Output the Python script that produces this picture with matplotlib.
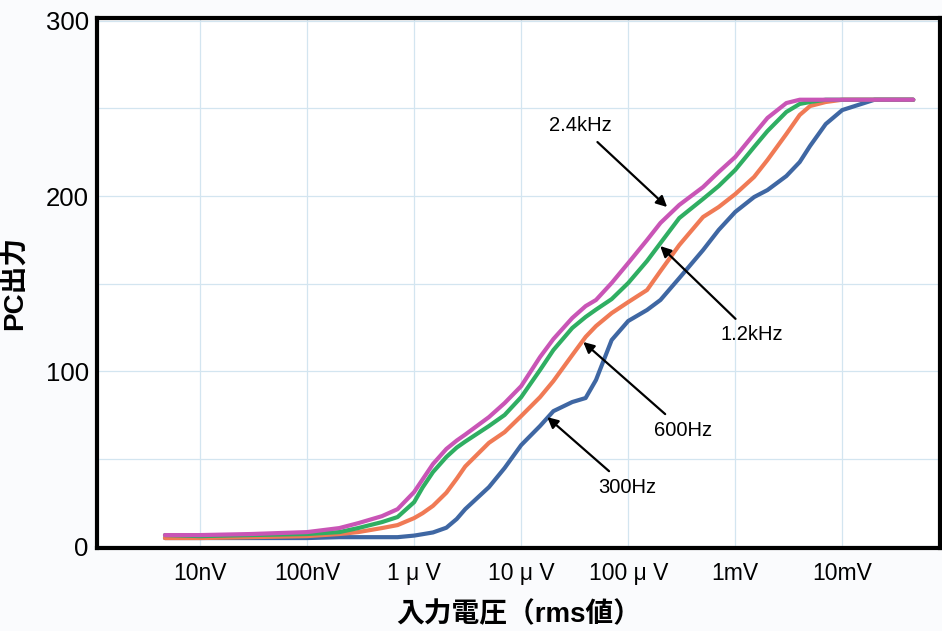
import numpy as np
import matplotlib
matplotlib.use("Agg")
import matplotlib.pyplot as plt
from matplotlib.ticker import NullLocator

plt.rcParams['font.family'] = ['Liberation Sans', 'Noto Sans CJK JP', 'DejaVu Sans']

# input voltage (V rms), shared by all curves
volts = [4.7e-9, 1e-8, 3e-8, 1e-7, 2e-7, 3e-7, 5e-7, 7e-7, 1e-6, 1.2e-6,
         1.5e-6, 2e-6, 2.5e-6, 3e-6, 5e-6, 7e-6, 1e-5, 1.5e-5, 2e-5, 3e-5,
         4e-5, 5e-5, 7e-5, 1e-4, 1.5e-4, 2e-4, 3e-4, 5e-4, 7e-4, 1e-3,
         1.5e-3, 2e-3, 3e-3, 4e-3, 5e-3, 7e-3, 1e-2, 2e-2, 4.6e-2]

# PC output for each tone frequency
out_2400 = [6.3, 6.3, 6.9, 8.0, 10.3, 13.1, 17.1, 21.1, 30.9, 38.1,
            46.9, 55.5, 60.3, 63.7, 73.7, 81.7, 91.4, 108.0, 118.3, 130.3,
            137.1, 140.6, 150.3, 161.7, 174.9, 184.6, 194.9, 205.1, 213.7, 222.3,
            235.4, 244.6, 253.1, 255, 255, 255, 255, 255, 255]
out_1200 = [6.3, 5.7, 6.3, 6.9, 8.0, 10.3, 13.7, 16.6, 25.1, 33.5,
            42.3, 50.9, 56.3, 59.7, 68.6, 74.9, 85.1, 100.6, 112.0, 124.6,
            130.9, 135.1, 141.1, 150.3, 162.9, 173.1, 187.4, 198.3, 205.7, 214.9,
            228.0, 237.1, 248.0, 252.6, 253.7, 255, 255, 255, 255]
out_600 = [4.6, 4.6, 5.1, 5.7, 6.9, 8.0, 10.3, 12.0, 16.0, 18.8,
           23.0, 30.5, 38.5, 45.5, 59.0, 65.1, 74.3, 85.1, 94.3, 109.1,
           119.5, 125.7, 133.1, 139.4, 146.3, 157.1, 172.0, 188.0, 193.7, 201.1,
           210.9, 220.6, 235.4, 246.3, 251.4, 253.7, 255, 255, 255]
out_300 = [4.6, 4.6, 4.6, 4.6, 5.1, 5.1, 5.1, 5.1, 6.0, 6.8,
           7.8, 10.5, 15.5, 21.1, 33.7, 44.6, 57.7, 68.6, 77.1, 82.3,
           84.6, 94.9, 117.7, 128.6, 134.9, 140.6, 153.1, 169.1, 180.6, 190.9,
           199.4, 203.4, 211.4, 219.4, 228.6, 241.1, 249.1, 255, 255]

tick_volts = [1e-8, 1e-7, 1e-6, 1e-5, 1e-4, 1e-3, 1e-2]
tick_names = ['10nV', '100nV', '1 \u03bc V', '10 \u03bc V', '100 \u03bc V', '1mV', '10mV']

fig = plt.figure(figsize=(9.42, 6.31), dpi=100, facecolor='#fafbfd')
ax = fig.add_axes([0.103, 0.1315, 0.895, 0.84])
ax.set_facecolor('white')

ax.plot(volts, out_300, color='#3f67a3', lw=3, solid_capstyle='round', solid_joinstyle='round')
ax.plot(volts, out_600, color='#f07a55', lw=3, solid_capstyle='round', solid_joinstyle='round')
ax.plot(volts, out_1200, color='#2fae62', lw=3, solid_capstyle='round', solid_joinstyle='round')
ax.plot(volts, out_2400, color='#c955b6', lw=3, solid_capstyle='round', solid_joinstyle='round')

ax.set_xscale('log')
ax.set_xlim(1.09e-9, 8.2e-2)
ax.set_ylim(-1.1, 301.7)
ax.set_xticks(tick_volts)
ax.set_xticklabels(tick_names)
ax.xaxis.set_minor_locator(NullLocator())
ax.set_yticks([0, 100, 200, 300])
ax.set_yticks([50, 150, 250], minor=True)
ax.tick_params(which='both', length=0)
ax.tick_params(axis='x', labelsize=16.5, pad=10)
ax.tick_params(axis='y', labelsize=18.5, pad=6)

ax.grid(True, which='both', color='#d3e5f0', lw=0.9)
ax.set_axisbelow(True)
for s in ax.spines.values():
    s.set_linewidth(3)
    s.set_color('black')

ax.set_ylabel('PC出力', fontsize=20, fontweight='bold', labelpad=12)
ax.set_xlabel('入力電圧（rms値）', fontsize=20, fontweight='bold', labelpad=12)

# frequency labels with arrows
arrow = dict(arrowstyle='-|>', color='black', lw=1.6, mutation_scale=16, shrinkA=4, shrinkB=0)
ax.annotate('2.4kHz', xy=(2.31e-4, 193.7), xytext=(3.56e-5, 240), fontsize=14.5,
            ha='center', va='center', arrowprops=arrow)
ax.annotate('1.2kHz', xy=(1.99e-4, 171.4), xytext=(1.44e-3, 120.6), fontsize=14.5,
            ha='center', va='center', arrowprops=arrow)
ax.annotate('600Hz', xy=(3.8e-5, 116.6), xytext=(3.27e-4, 66.3), fontsize=14.5,
            ha='center', va='center', arrowprops=arrow)
ax.annotate('300Hz', xy=(1.75e-5, 73.7), xytext=(9.8e-5, 33.7), fontsize=14.5,
            ha='center', va='center', arrowprops=arrow)

fig.savefig('out.png', dpi=100, facecolor=fig.get_facecolor())
